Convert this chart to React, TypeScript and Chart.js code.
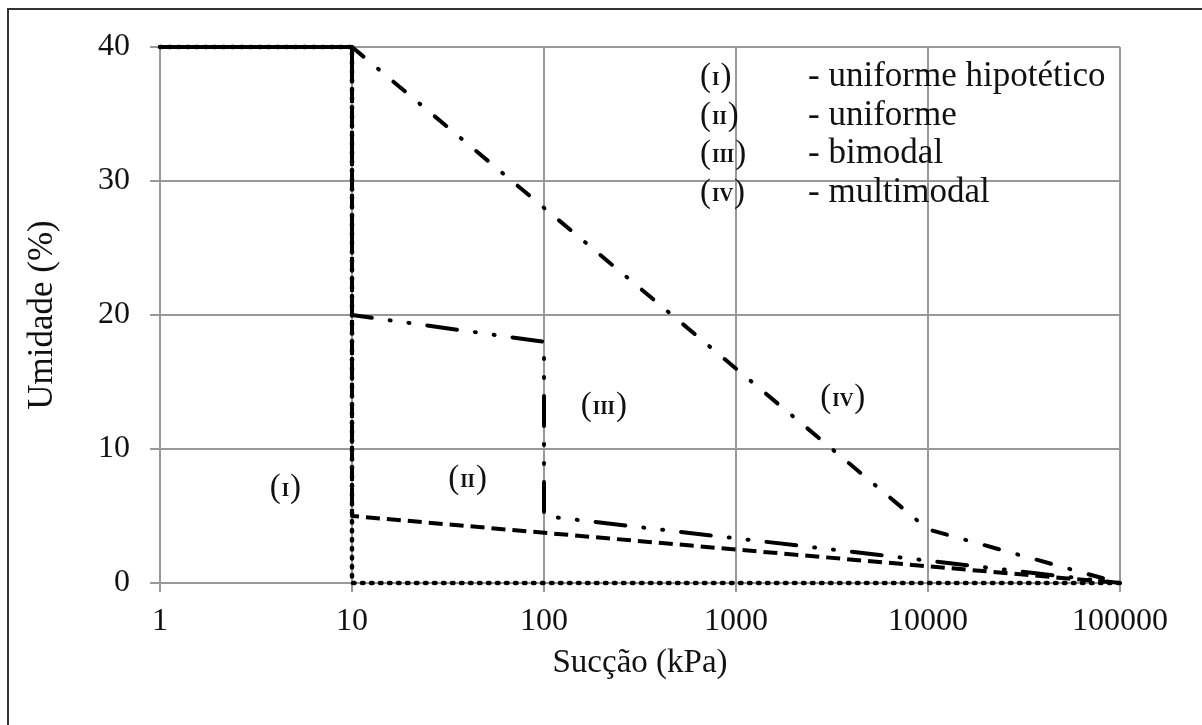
import React, { useEffect, useRef } from "react";
import { Chart, registerables } from "chart.js";

Chart.register(...registerables);

const xTicks = [1, 10, 100, 1000, 10000, 100000];
const yTicks = [0, 10, 20, 30, 40];

const uniformeHipX = [1, 10, 10, 100000];
const uniformeHipY = [40, 40, 0, 0];
const uniformeX = [10, 10, 100000];
const uniformeY = [40, 5, 0];
const bimodalX = [10, 10, 100, 100, 100000];
const bimodalY = [40, 20, 18, 5, 0];
const multimodalX = [10, 10000, 100000];
const multimodalY = [40, 4, 0];

const numerals = ["I", "II", "III", "IV"];
const legendLabels = ["- uniforme hipotético", "- uniforme", "- bimodal", "- multimodal"];
// annotation anchors in data space
const annotX = [4.5, 40, 205, 3600];
const annotY = [7.2, 7.8, 13.3, 13.9];

const FONT = "'Liberation Serif', 'DejaVu Serif', serif";

function pts(xs: number[], ys: number[]) {
  return xs.map((x, i) => ({ x, y: ys[i] }));
}

function drawNumeral(ctx: CanvasRenderingContext2D, num: string, x: number, y: number, align: "left" | "center") {
  ctx.save();
  ctx.fillStyle = "#111";
  ctx.textBaseline = "alphabetic";
  ctx.textAlign = "left";
  const pf = `33px ${FONT}`;
  const nf = `bold 19px ${FONT}`;
  ctx.font = pf;
  const pw = ctx.measureText("(").width;
  const cw = ctx.measureText(")").width;
  ctx.font = nf;
  const nw = ctx.measureText(num).width;
  const total = pw + nw + cw + 2;
  let sx = align === "center" ? x - total / 2 : x;
  const base = y + 10;
  ctx.font = pf;
  ctx.fillText("(", sx, base);
  ctx.font = nf;
  ctx.fillText(num, sx + pw + 1, base - 1);
  ctx.font = pf;
  ctx.fillText(")", sx + pw + nw + 2, base);
  ctx.restore();
}

const annotPlugin = {
  id: "annot",
  afterDatasetsDraw(chart: any) {
    const { ctx, scales, chartArea } = chart;
    for (let i = 0; i < numerals.length; i++) {
      const px = scales.x.getPixelForValue(annotX[i]);
      const py = scales.y.getPixelForValue(annotY[i]);
      drawNumeral(ctx, numerals[i], px, py, "center");
    }
    const lx = chartArea.left + 540;
    const tx = chartArea.left + 648;
    for (let i = 0; i < legendLabels.length; i++) {
      const cy = chartArea.top + 29 + i * 38.5;
      drawNumeral(ctx, numerals[i], lx, cy, "left");
      ctx.save();
      ctx.font = `35px ${FONT}`;
      ctx.fillStyle = "#111";
      ctx.textBaseline = "alphabetic";
      ctx.fillText(legendLabels[i], tx, cy + 10);
      ctx.restore();
    }
    // outer frame (left + top)
    ctx.save();
    ctx.strokeStyle = "#333";
    ctx.lineWidth = 2;
    ctx.beginPath();
    ctx.moveTo(8, 730);
    ctx.lineTo(8, 9);
    ctx.lineTo(1210, 9);
    ctx.stroke();
    ctx.restore();
  },
};

export default function App() {
  const ref = useRef<HTMLCanvasElement | null>(null);
  useEffect(() => {
    document.body.style.margin = "0";
    const canvas = ref.current!;
    const common = { showLine: true, pointRadius: 0, borderColor: "#000", borderWidth: 4, fill: false, borderCapStyle: "round", borderJoinStyle: "round", clip: 8 };
    const chart = new Chart(canvas, {
      type: "scatter",
      data: {
        datasets: [
          { ...common, label: "uniforme hipotético", data: pts(uniformeHipX, uniformeHipY), borderWidth: 4.5, borderDash: [1.5, 7.5] },
          { ...common, label: "uniforme", data: pts(uniformeX, uniformeY), borderDash: [14, 7], borderCapStyle: "butt" },
          { ...common, label: "bimodal", data: pts(bimodalX, bimodalY), borderDash: [30, 18, 1, 18, 1, 18] },
          { ...common, label: "multimodal", data: pts(multimodalX, multimodalY), borderDash: [15, 19, 1, 19] },
          { ...common, label: "topo", data: pts(uniformeHipX.slice(0, 2), uniformeHipY.slice(0, 2)), borderWidth: 4, borderDash: [], borderCapStyle: "butt" },
        ] as any,
      },
      options: {
        animation: false,
        responsive: false,
        layout: { padding: { left: 0, top: 47, right: 82, bottom: 0 } },
        plugins: { legend: { display: false }, tooltip: { enabled: false } },
        scales: {
          x: {
            type: "logarithmic",
            min: 1,
            max: 100000,
            afterBuildTicks: (s: any) => {
              s.ticks = xTicks.map((v) => ({ value: v }));
            },
            afterFit: (s: any) => {
              s.height = 142;
            },
            ticks: {
              autoSkip: false,
              maxRotation: 0,
              padding: 10,
              color: "#111",
              font: { family: FONT, size: 32 },
              callback: (v: any) => String(v),
            },
            grid: { color: "#999", lineWidth: 2, tickLength: 9, tickColor: "#999" },
            border: { color: "#999", width: 2 },
            title: { display: true, text: "Sucção (kPa)", color: "#111", font: { family: FONT, size: 33 }, padding: { top: 4, bottom: 42 } },
          },
          y: {
            min: 0,
            max: 40,
            afterBuildTicks: (s: any) => {
              s.ticks = yTicks.map((v) => ({ value: v }));
            },
            afterFit: (s: any) => {
              s.width = 160;
            },
            ticks: {
              padding: 20,
              color: "#111",
              font: { family: FONT, size: 32 },
            },
            grid: { color: "#999", lineWidth: 2, tickLength: 10, tickColor: "#999" },
            border: { color: "#999", width: 2 },
            title: { display: true, text: "Umidade (%)", color: "#111", font: { family: FONT, size: 35 }, padding: { top: 22, bottom: 0 } },
          },
        },
      },
      plugins: [annotPlugin],
    } as any);
    return () => chart.destroy();
  }, []);
  return <canvas ref={ref} width={1202} height={725} style={{ display: "block" }} />;
}
